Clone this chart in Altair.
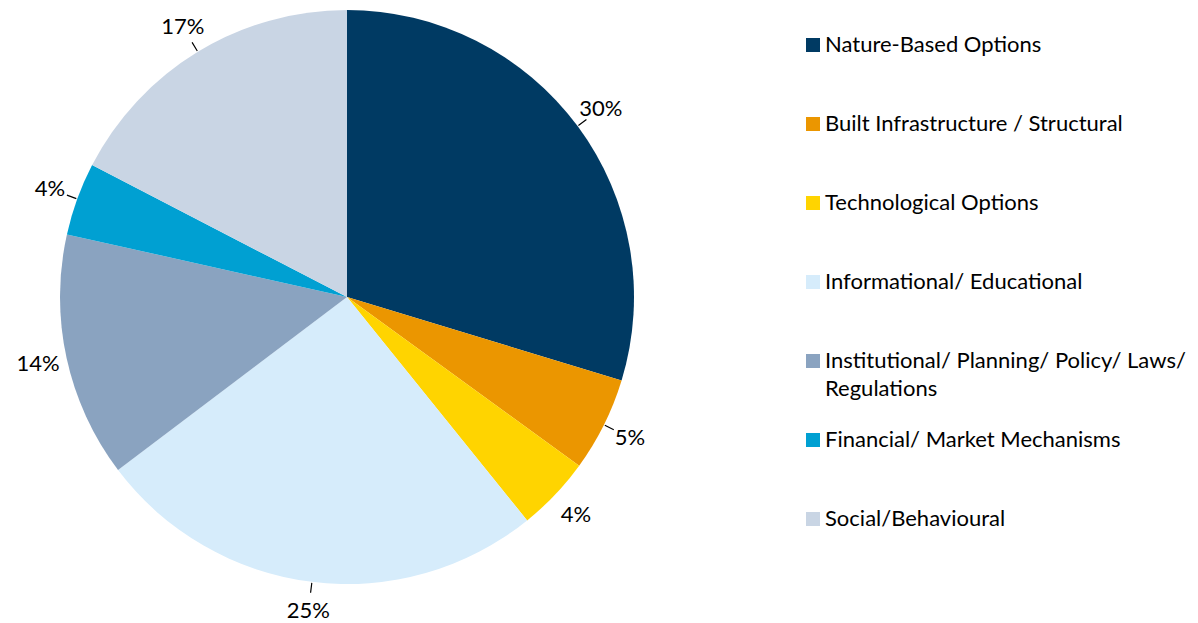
import math
import altair as alt
import pandas as pd

categories = [
    "Nature-Based Options",
    "Built Infrastructure / Structural",
    "Technological Options",
    "Informational/ Educational",
    "Institutional/ Planning/ Policy/ Laws/ Regulations",
    "Financial/ Market Mechanisms",
    "Social/Behavioural",
]
shares = [29.7, 5.3, 4.2, 25.5, 13.8, 4.1, 17.4]
pct_labels = ["30%", "5%", "4%", "25%", "14%", "4%", "17%"]
colors = ["#003A63", "#EB9600", "#FFD400", "#D6ECFB", "#8AA3C0", "#00A0D2", "#C9D5E4"]
has_leader = [True, True, False, True, False, True, True]

df = pd.DataFrame({
    "idx": list(range(len(categories))),
    "category": categories,
    "share": shares,
    "label": pct_labels,
    "leader": has_leader,
})
total = sum(shares)
cum = 0.0
mids = []
for v in shares:
    mids.append(2 * math.pi * (cum + v / 2) / total)
    cum += v
half = 0.6 / 296
df["t0"] = [m - half for m in mids]
df["t1"] = [m + half for m in mids]

CX, CY = 339, 289
R = 287

base = alt.Chart(df)

pie = base.mark_arc(radius=R).encode(
    x=alt.value(CX),
    y=alt.value(CY),
    theta=alt.Theta("share:Q", stack=True),
    order=alt.Order("idx:Q"),
    color=alt.Color(
        "category:N",
        scale=alt.Scale(domain=categories, range=colors),
        legend=alt.Legend(
            orient="none",
            legendX=794,
            legendY=26,
            title=None,
            symbolType="square",
            symbolSize=196,
            symbolStrokeWidth=0,
            labelFont="Lato",
            labelFontSize=22,
            labelColor="#000000",
            labelOffset=1,
            labelLimit=500,
            rowPadding=29,
            gridAlign="all",
            padding=0,
            labelExpr="datum.label == 'Institutional/ Planning/ Policy/ Laws/ Regulations' ? ['Institutional/ Planning/ Policy/ Laws/', 'Regulations'] : datum.label",
        ),
    ),
)

texts = base.mark_text(radius=316, font="Lato", fontSize=22, color="#000000").encode(
    x=alt.value(CX),
    y=alt.value(CY),
    theta=alt.Theta("share:Q", stack=True),
    order=alt.Order("idx:Q"),
    text="label:N",
)

leaders = base.transform_filter("datum.leader").mark_arc(
    radius=R + 1, radius2=R + 11, color="#000000"
).encode(
    x=alt.value(CX),
    y=alt.value(CY),
    theta=alt.Theta("t0:Q", scale=None, stack=False),
    theta2="t1:Q",
)

chart = alt.layer(pie, leaders, texts).properties(
    width=1182,
    height=615,
    padding=0,
    autosize=alt.AutoSizeParams(type="none"),
).configure(
    style={"guide-label": {"lineHeight": 28}},
    view=alt.ViewConfig(strokeWidth=0, strokeOpacity=0),
)

chart.save("out.html", embed_options={"renderer": "svg", "actions": False})
